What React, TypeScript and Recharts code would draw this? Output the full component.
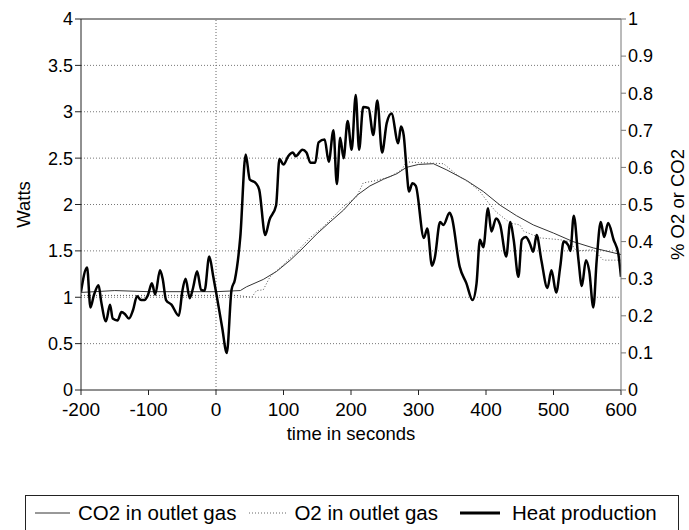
import React from 'react';
import { LineChart, Line, XAxis, YAxis, ReferenceLine, Legend } from 'recharts';

// Heat production (Watts) vs time (s)
const heatTime = [
  -200, -191, -186, -181, -174, -170, -163, -157, -153, -146, -140, -135, -129, -123, -117, -111, -106, -101,
  -95, -90, -83, -79, -74, -66, -55, -50, -45, -39, -34, -28, -22, -17, -10, -4, 0, 9, 16, 23, 28, 36, 44, 50,
  59, 64, 73, 79, 89, 94, 100, 107, 114, 118, 128, 134, 140, 147, 152, 161, 167, 174, 179, 184, 189, 195, 201,
  207, 212, 218, 226, 233, 239, 246, 253, 260, 270, 274, 278, 282, 286, 291, 296, 308, 313, 320, 324, 332, 337,
  346, 349, 361, 371, 380, 386, 391, 396, 403, 408, 415, 421, 430, 436, 441, 448, 453, 459, 465, 470, 475, 482,
  491, 497, 504, 510, 515, 522, 525, 530, 537, 542, 548, 553, 559, 564, 570, 575, 581, 589, 596, 600,
];
const heatWatts = [
  1.06, 1.32, 0.89, 1.02, 1.13, 0.95, 0.74, 0.92, 0.77, 0.75, 0.84, 0.82, 0.77, 0.86, 1.01, 0.97, 0.97, 1.02,
  1.15, 1.03, 1.29, 1.2, 0.97, 0.92, 0.8, 1.06, 1.2, 0.99, 1.1, 1.28, 1.08, 1.07, 1.44, 1.22, 1.06, 0.68, 0.4, 1.08, 1.19, 1.65, 2.54, 2.27,
  2.23, 2.16, 1.67, 1.83, 1.99, 2.49, 2.43, 2.52, 2.56, 2.52, 2.59, 2.56, 2.45, 2.45, 2.67, 2.7, 2.46, 2.8, 2.22, 2.72, 2.5, 2.9, 2.59,
  3.18, 2.59, 3.05, 3.04, 2.75, 3.12, 2.56, 2.88, 2.98, 2.66, 2.84, 2.75, 2.41, 2.14, 2.23, 2.2, 1.64, 1.74, 1.34, 1.42, 1.81, 1.78,
  1.91, 1.87, 1.33, 1.15, 0.97, 1.15, 1.62, 1.54, 1.96, 1.71, 1.85, 1.78, 1.44, 1.81, 1.62, 1.22, 1.62, 1.65, 1.58, 1.49, 1.67, 1.4,
  1.1, 1.29, 1.05, 1.33, 1.6, 1.56, 1.5, 1.88, 1.4, 1.12, 1.4, 1.28, 0.89, 1.4, 1.81, 1.65, 1.8, 1.62, 1.47, 1.22,
];

// CO2 in outlet gas (fraction, right axis)
const co2Time = [-200, -150, -100, -50, 0, 36, 45, 70, 90, 110, 129, 149, 169, 189, 209, 228, 248, 268, 282, 300, 322, 342, 371, 396, 421, 445, 470, 500, 529, 559, 600];
const co2Value = [0.263, 0.268, 0.265, 0.265, 0.265, 0.268, 0.278, 0.298, 0.32, 0.35, 0.383, 0.42, 0.453, 0.485, 0.525, 0.55, 0.568, 0.583, 0.6, 0.608, 0.61, 0.593, 0.565, 0.535, 0.498, 0.47, 0.445, 0.423, 0.4, 0.383, 0.365];

// O2 in outlet gas (fraction, right axis)
const o2Time = [-200, -100, 0, 30, 53, 60, 70, 80, 100, 120, 139, 159, 189, 208, 218, 238, 258, 275, 282, 300, 337, 357, 376, 391, 400, 415, 436, 450, 456, 480, 510, 524, 534, 559, 574, 600];
const o2Value = [0.255, 0.255, 0.255, 0.255, 0.25, 0.268, 0.27, 0.305, 0.338, 0.373, 0.41, 0.44, 0.495, 0.52, 0.558, 0.565, 0.575, 0.593, 0.615, 0.613, 0.61, 0.58, 0.558, 0.535, 0.513, 0.48, 0.45, 0.445, 0.428, 0.41, 0.405, 0.4, 0.375, 0.378, 0.35, 0.35];

const xTicks = [-200, -100, 0, 100, 200, 300, 400, 500, 600];
const wattTicks = [0, 0.5, 1, 1.5, 2, 2.5, 3, 3.5, 4];
const fracTicks = [0, 0.1, 0.2, 0.3, 0.4, 0.5, 0.6, 0.7, 0.8, 0.9, 1];
const seriesNames = ['CO2 in outlet gas', 'O2 in outlet gas', 'Heat production'];

// one table keyed by time, built from the arrays above
const allTimes = Array.from(new Set([...heatTime, ...co2Time, ...o2Time])).sort((a, b) => a - b);
const tableData = allTimes.map((t) => {
  const hi = heatTime.indexOf(t);
  const ci = co2Time.indexOf(t);
  const oi = o2Time.indexOf(t);
  return {
    t,
    heat: hi >= 0 ? heatWatts[hi] : null,
    co2: ci >= 0 ? co2Value[ci] : null,
    o2: oi >= 0 ? o2Value[oi] : null,
  };
});

const FONT = '"Liberation Sans", Arial, Helvetica, sans-serif';

const legendStyles = [
  { stroke: '#333', width: 1, dash: undefined as string | undefined, gap: 0, sample: 35, textGap: 8 },
  { stroke: '#666', width: 1, dash: '1 2', gap: 13, sample: 38, textGap: 7 },
  { stroke: '#000', width: 3, dash: undefined as string | undefined, gap: 22, sample: 40, textGap: 12 },
];

const renderLegend = () => (
  <div
    style={{
      width: 654,
      height: 38,
      boxSizing: 'border-box',
      border: '1px solid #222',
      display: 'flex',
      alignItems: 'center',
      paddingLeft: 9,
      paddingBottom: 2,
      fontFamily: FONT,
      fontSize: 20.5,
      color: '#000',
    }}
  >
    {seriesNames.map((name, i) => (
      <div key={name} style={{ display: 'flex', alignItems: 'center', marginLeft: legendStyles[i].gap }}>
        <svg width={legendStyles[i].sample} height={8} style={{ display: 'block' }}>
          <line
            x1={0}
            y1={4}
            x2={legendStyles[i].sample}
            y2={4}
            stroke={legendStyles[i].stroke}
            strokeWidth={legendStyles[i].width}
            strokeDasharray={legendStyles[i].dash}
          />
        </svg>
        <span style={{ marginLeft: legendStyles[i].textGap, whiteSpace: 'nowrap' }}>{name}</span>
      </div>
    ))}
  </div>
);

export default function App() {
  const xTickStyle = { fontSize: 19, fill: '#000', fontFamily: FONT };
  const yTickStyle = { fontSize: 18, fill: '#000', fontFamily: FONT };
  const titleStyle = { textAnchor: 'middle' as const, fontSize: 18.5, fill: '#000', fontFamily: FONT };
  return (
    <div style={{ position: 'fixed', left: 0, top: 0, width: 689, height: 530, overflow: 'hidden', background: '#fff' }}>
      <LineChart width={689} height={530} data={tableData} margin={{ top: 19, left: 21, right: 8, bottom: 80 }}>
        <XAxis
          type="number"
          dataKey="t"
          domain={[-200, 600]}
          ticks={xTicks}
          allowDataOverflow
          height={60}
          tick={xTickStyle}
          tickSize={5}
          tickMargin={8}
          stroke="#222"
          label={{ value: 'time in seconds', position: 'insideBottom', offset: 10, style: titleStyle }}
        />
        <YAxis
          yAxisId="left"
          orientation="left"
          domain={[0, 4]}
          ticks={wattTicks}
          width={60}
          tick={yTickStyle}
          tickSize={6}
          tickMargin={2}
          stroke="#222"
          label={{ value: 'Watts', angle: -90, position: 'insideLeft', offset: 2, style: titleStyle }}
        />
        <YAxis
          yAxisId="right"
          orientation="right"
          domain={[0, 1]}
          ticks={fracTicks}
          width={60}
          tick={yTickStyle}
          tickSize={5}
          tickMargin={2}
          stroke="#777"
          label={{ value: '% O2 or CO2', angle: -90, position: 'insideRight', offset: 4, style: titleStyle }}
        />
        {wattTicks
          .filter((v) => v > 0 && v < 4)
          .map((v) => (
            <ReferenceLine key={v} yAxisId="left" y={v} stroke="#777" strokeDasharray="1 2" />
          ))}
        <ReferenceLine yAxisId="left" y={4} stroke="#222" strokeWidth={1} />
        <ReferenceLine yAxisId="left" x={0} stroke="#666" strokeDasharray="1 2" />
        <Line
          yAxisId="right"
          dataKey="co2"
          name={seriesNames[0]}
          type="linear"
          stroke="#333"
          strokeWidth={1}
          dot={false}
          connectNulls
          isAnimationActive={false}
        />
        <Line
          yAxisId="right"
          dataKey="o2"
          name={seriesNames[1]}
          type="linear"
          stroke="#555"
          strokeWidth={1}
          strokeDasharray="1 2"
          dot={false}
          connectNulls
          isAnimationActive={false}
        />
        <Line
          yAxisId="left"
          dataKey="heat"
          name={seriesNames[2]}
          type="monotone"
          stroke="#000"
          strokeWidth={2.5}
          dot={false}
          connectNulls
          isAnimationActive={false}
        />
        <Legend
          layout="horizontal"
          verticalAlign="middle"
          align="center"
          content={renderLegend}
          wrapperStyle={{ position: 'absolute', left: 25, top: 495, width: 654, height: 38 }}
        />
      </LineChart>
    </div>
  );
}
